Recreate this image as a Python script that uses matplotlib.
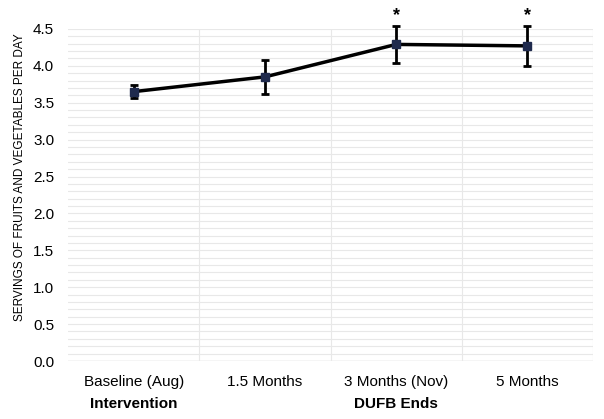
import matplotlib.pyplot as plt
import numpy as np

plt.rcParams['font.family'] = ['Liberation Sans', 'DejaVu Sans']

# donnees
periodes = ["Baseline (Aug)", "1.5 Months", "3 Months (Nov)", "5 Months"]
portions = [3.65, 3.85, 4.29, 4.27]
erreurs = [0.09, 0.23, 0.25, 0.27]
significatif = [False, False, True, True]
evenements = ["Intervention", "", "DUFB Ends", ""]

fig = plt.figure(figsize=(6.04, 4.19), dpi=100)
ax = fig.add_axes([0.1126, 0.1384, 0.8694, 0.7926])

x = np.arange(len(periodes))

# grille
for v in np.arange(0.1, 4.51, 0.1):
    ax.axhline(v, color="#e8e8e8", lw=0.8, zorder=0)
ax.axhline(0, color="#d0d0d0", lw=1, zorder=0)
for b in np.arange(0.5, len(periodes) - 0.4, 1):
    ax.axvline(b, color="#e8e8e8", lw=0.8, zorder=0)

conteneur = ax.errorbar(x, portions, yerr=erreurs, color="black", lw=2.5, ecolor="black",
                        elinewidth=2, capsize=3, capthick=2, marker="s", markersize=6,
                        markerfacecolor="#1f2a4d", markeredgecolor="#1f2a4d", zorder=3)
for morceau in conteneur.lines:
    if morceau is None:
        continue
    if isinstance(morceau, tuple):
        for m in morceau:
            m.set_clip_on(False)
    else:
        morceau.set_clip_on(False)

for i in range(len(x)):
    if significatif[i]:
        ax.text(x[i], portions[i] + erreurs[i] + 0.02, "*", ha="center",
                va="bottom", fontsize=13, fontweight="bold")

ax.set_xlim(-0.5, len(periodes) - 0.5)
ax.set_ylim(0, 4.5)
ax.set_yticks(np.arange(0, 4.51, 0.5))
ax.set_yticklabels(["%.1f" % v for v in np.arange(0, 4.51, 0.5)], fontsize=11)
ax.set_xticks(x)
ax.set_xticklabels(periodes, fontsize=11)
ax.tick_params(length=0)
ax.tick_params(axis="y", pad=10)
ax.tick_params(axis="x", pad=10)

for i in range(len(x)):
    if evenements[i]:
        ax.text(x[i], -0.13, evenements[i], ha="center", va="center",
                fontsize=11, fontweight="bold",
                transform=ax.get_xaxis_transform())

for s in ax.spines.values():
    s.set_visible(False)

ax.text(-0.0914, 0.553, "SERVINGS OF FRUITS AND VEGETABLES PER DAY", rotation=90,
        ha="center", va="center", fontsize=8.5, transform=ax.transAxes)

plt.savefig("out.png", dpi=100)
